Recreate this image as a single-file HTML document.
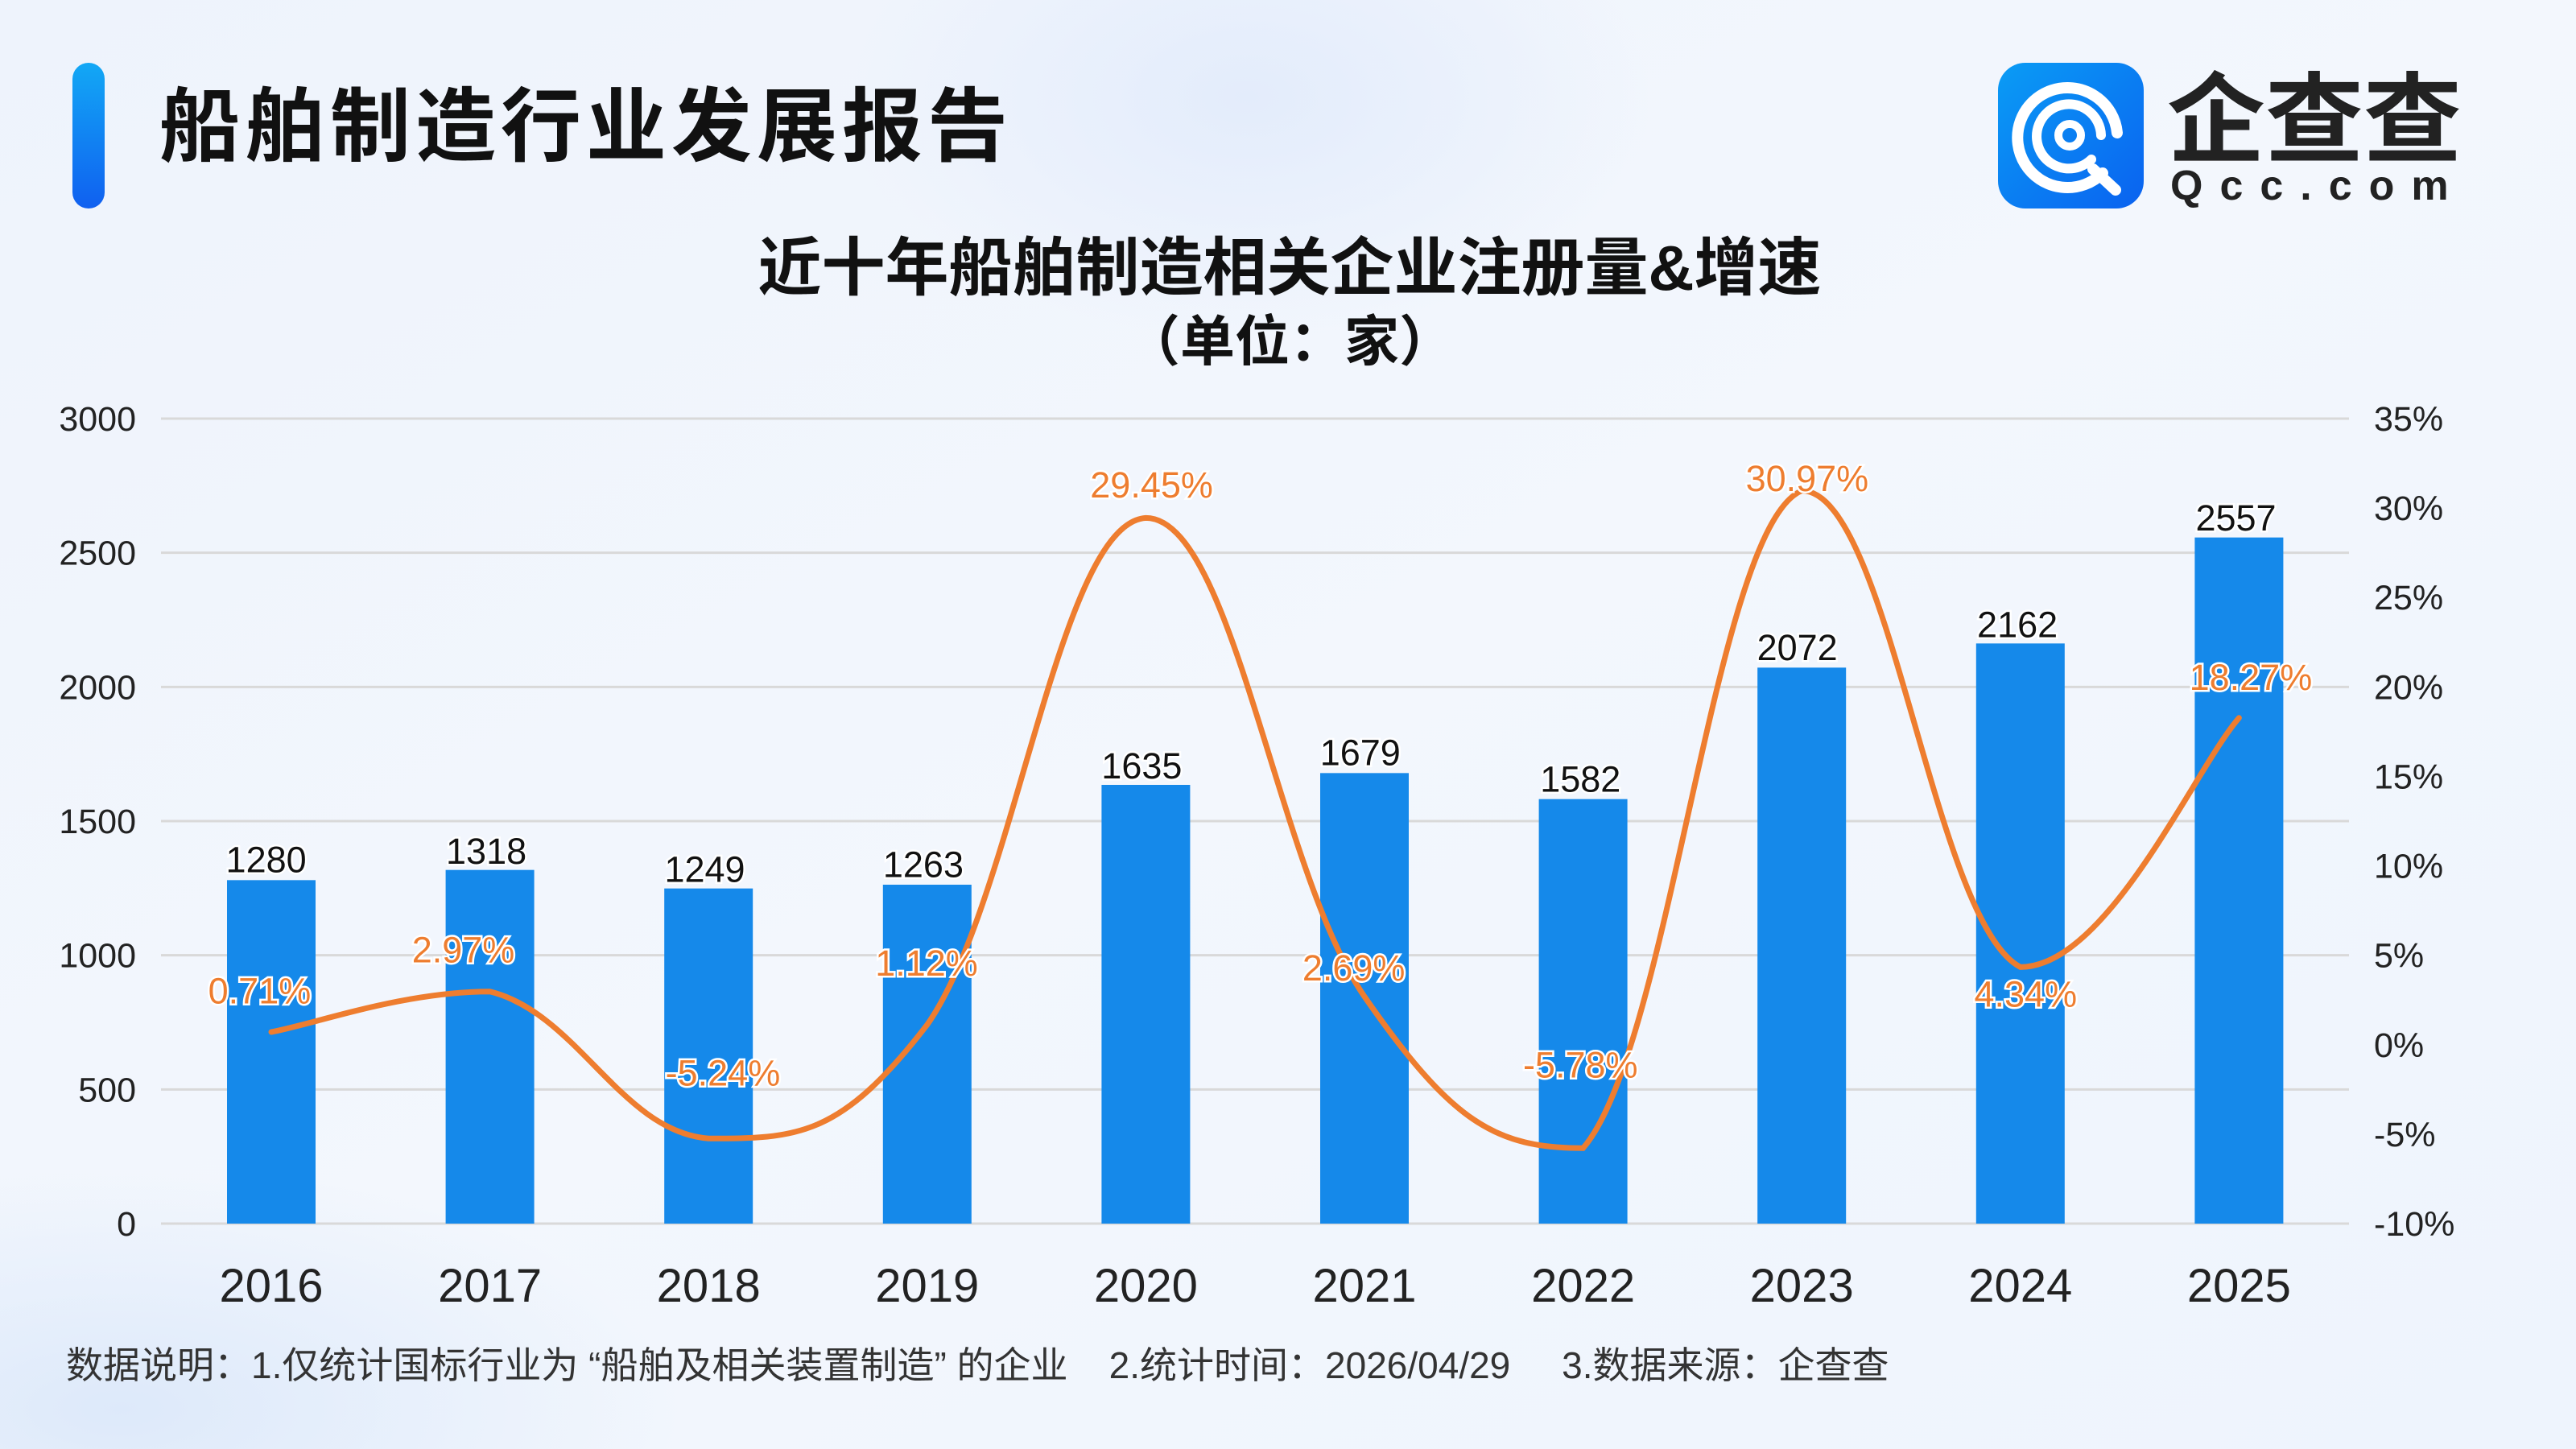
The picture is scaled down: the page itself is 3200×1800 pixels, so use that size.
<!DOCTYPE html>
<html><head><meta charset="utf-8">
<style>
html,body{margin:0;padding:0;width:3200px;height:1800px;overflow:hidden;}
body{background:#f0f5fd;font-family:"Liberation Sans","Noto Sans CJK SC",sans-serif;}
svg{display:block;position:absolute;left:0;top:0}
</style></head>
<body>
<svg id="s" width="3200" height="1800" viewBox="0 0 3200 1800" xmlns="http://www.w3.org/2000/svg">
<defs>
<linearGradient id="bg" x1="0" y1="0" x2="1" y2="1">
<stop offset="0" stop-color="#eef3fc"/><stop offset="0.5" stop-color="#f3f7fd"/><stop offset="1" stop-color="#eef4fd"/>
</linearGradient>
<radialGradient id="blob" cx="0.5" cy="0.5" r="0.5">
<stop offset="0" stop-color="#e3ecfb"/><stop offset="1" stop-color="#e3ecfb" stop-opacity="0"/>
</radialGradient>
<radialGradient id="blob2" cx="0.5" cy="0.5" r="0.5">
<stop offset="0" stop-color="#dde9fa"/><stop offset="1" stop-color="#dde9fa" stop-opacity="0"/>
</radialGradient>
<linearGradient id="bar" x1="0" y1="0" x2="0" y2="1">
<stop offset="0" stop-color="#12a8f5"/><stop offset="1" stop-color="#1060f0"/>
</linearGradient>
<linearGradient id="logo" x1="0" y1="0" x2="1" y2="1">
<stop offset="0" stop-color="#0a9cf5"/><stop offset="1" stop-color="#0a62f0"/>
</linearGradient>
</defs>
<rect width="3200" height="1800" fill="url(#bg)"/>
<ellipse cx="1550" cy="120" rx="500" ry="300" fill="url(#blob)"/>
<ellipse cx="150" cy="1750" rx="700" ry="300" fill="url(#blob2)"/>

<rect x="90" y="78" width="40" height="181" rx="20" fill="url(#bar)"/>
<text x="198" y="192" font-size="100" font-weight="bold" letter-spacing="6" fill="#111" font-family="'Liberation Sans','Noto Sans CJK SC',sans-serif">船舶制造行业发展报告</text>

<rect x="2482" y="78" width="181" height="181" rx="34" fill="url(#logo)"/>
<g fill="none" stroke="#fff" stroke-linecap="round">
<path d="M2612 215 A62 62 0 1 1 2630 165" stroke-width="14"/>
<path d="M2598 198 A40 40 0 1 1 2610 168" stroke-width="12"/>
<circle cx="2571" cy="168" r="14" stroke-width="10"/>
<path d="M2600 210 L2628 236" stroke-width="14"/>
</g>
<text x="2692" y="192" font-size="122" font-weight="bold" fill="#222" font-family="'Liberation Sans','Noto Sans CJK SC',sans-serif">企查查</text>
<text x="2696" y="248" font-size="52" font-weight="bold" fill="#222" letter-spacing="21">Qcc.com</text>

<text x="1602" y="360" text-anchor="middle" font-size="79" font-weight="bold" fill="#111" font-family="'Liberation Sans','Noto Sans CJK SC',sans-serif">近十年船舶制造相关企业注册量&amp;增速</text>
<text x="1602" y="448" text-anchor="middle" font-size="68" font-weight="bold" fill="#111" font-family="'Liberation Sans','Noto Sans CJK SC',sans-serif">（单位：家）</text>

<g id="grid" stroke="#d9d9d9" stroke-width="3"></g>
<g id="bars" fill="#1589ea"></g>
<g id="axl" font-size="43" fill="#222"></g>
<path id="line" fill="none" stroke="#ee7d2f" stroke-width="7" stroke-linecap="round"/>
<g id="lbl" font-size="45"></g>

<text x="82" y="1712" font-size="46" fill="#333" style="white-space:pre" font-family="'Liberation Sans','Noto Sans CJK SC',sans-serif">数据说明：1.仅统计国标行业为 “船舶及相关装置制造” 的企业    2.统计时间：2026/04/29     3.数据来源：企查查</text>
</svg>
<script>
(function(){
var NS="http://www.w3.org/2000/svg";
function el(p,t,a,txt){var e=document.createElementNS(NS,t);for(var k in a)e.setAttribute(k,a[k]);if(txt!=null)e.textContent=txt;document.getElementById(p).appendChild(e);return e;}
var T=520,B=1520;
for(var i=0;i<=6;i++){var y=T+i*(B-T)/6;
 el('grid','line',{x1:200,x2:2918,y1:y,y2:y});
 el('axl','text',{x:169,y:y+15,'text-anchor':'end'},String(3000-i*500));
}
var rt=['35%','30%','25%','20%','15%','10%','5%','0%','-5%','-10%'];
for(var i=0;i<10;i++){var y=T+i*(B-T)/9;el('axl','text',{x:2949,y:y+15},rt[i]);}
var yrs=[2016,2017,2018,2019,2020,2021,2022,2023,2024,2025];
var vals=[1280,1318,1249,1263,1635,1679,1582,2072,2162,2557];
var pct=[0.71,2.97,-5.24,1.12,29.45,2.69,-5.78,30.97,4.34,18.27];
var vl=[[162,523],[296,518],[429,529],[562,526],[695,466],[828,458],[962,474],[1094,394],[1228,380],[1361,315]];
var pl=[[158,603],[282,578],[440,653],[564,586],[701,295],[824,589],[962,648],[1100,291],[1233,605],[1370,412]];
var S=2.0408,pts=[];
for(var i=0;i<10;i++){
 var cx=337+271.6*i,h=vals[i]/3000*1000;
 el('bars','rect',{x:cx-55,y:B-h,width:110,height:h});
 el('axl','text',{x:cx,y:1617,'text-anchor':'middle','font-size':58},String(yrs[i]));
 pts.push([cx,T+(35-pct[i])*1000/45]);
}
function cl(v,a,b){var lo=Math.min(a,b),hi=Math.max(a,b);return Math.max(lo,Math.min(hi,v));}
var d='M'+pts[0][0]+' '+pts[0][1];
for(var i=0;i<9;i++){var p0=pts[Math.max(0,i-1)],p1=pts[i],p2=pts[i+1],p3=pts[Math.min(9,i+2)];
 var t=1/5;
 var c1y=cl(p1[1]+(p2[1]-p0[1])*t,p1[1],p2[1]), c2y=cl(p2[1]-(p3[1]-p1[1])*t,p1[1],p2[1]);
 d+=' C'+(p1[0]+(p2[0]-p0[0])*t)+' '+c1y+' '+(p2[0]-(p3[0]-p1[0])*t)+' '+c2y+' '+p2[0]+' '+p2[1];}
document.getElementById('line').setAttribute('d',d);
for(var i=0;i<10;i++){
 el('lbl','text',{x:vl[i][0]*S,y:vl[i][1]*S+16,'text-anchor':'middle',fill:'#111',stroke:'#fff','stroke-width':5,'paint-order':'stroke'},String(vals[i]));
 el('lbl','text',{x:pl[i][0]*S,y:pl[i][1]*S+16,'text-anchor':'middle',fill:'#ee7d2f',stroke:'#fff','stroke-width':5,'paint-order':'stroke'},pct[i].toFixed(2)+'%');
}
})();
</script>
</body></html>
